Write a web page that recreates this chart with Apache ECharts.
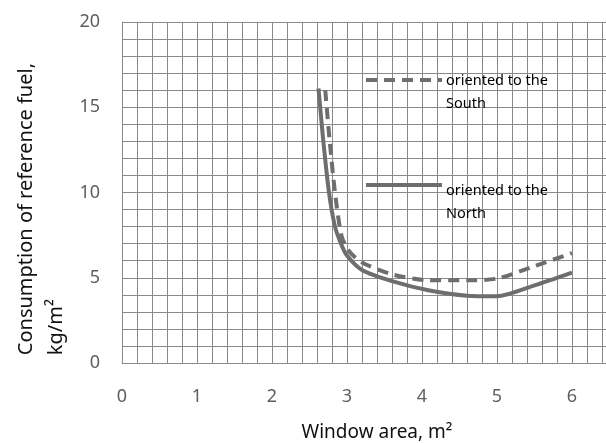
<!DOCTYPE html>
<html>
<head>
<meta charset="utf-8">
<script src="https://cdn.jsdelivr.net/npm/echarts@6.0.0/dist/echarts.min.js"></script>
<style>
  html, body { margin: 0; padding: 0; background: #fff; }
  #chart { width: 606px; height: 443px; }
</style>
</head>
<body>
<div id="chart"></div>
<script>
// window area (m2) vs fuel consumption (kg/m2)
const northX = [2.62, 2.68, 2.76, 2.84, 2.92, 3.0, 3.2, 3.6, 4.1, 4.6, 5.0, 5.5, 6.0];
const northY = [16.1, 13.2, 10.0, 8.0, 7.0, 6.3, 5.45, 4.8, 4.25, 3.95, 3.92, 4.55, 5.3];
const southX = [2.71, 2.77, 2.84, 2.93, 3.04, 3.2, 3.6, 4.1, 4.6, 5.0, 5.45, 6.0];
const southY = [16.0, 13.0, 10.0, 7.4, 6.5, 5.9, 5.2, 4.85, 4.85, 4.95, 5.6, 6.45];
const xTickLabels = [0, 1, 2, 3, 4, 5, 6];
const yTickLabels = [0, 5, 10, 15, 20];
const legendText = ["oriented to the\nSouth", "oriented to the\nNorth"];

const lineColor = "#6e6e6e";
const gridColor = "#8a8a8a";
const font = "'Noto Sans', 'Open Sans', sans-serif";

const pairs = (xs, ys) => xs.map((x, i) => [x, ys[i]]);
const nearInt = (v, list) => {
    const r = Math.round(v);
    return Math.abs(v - r) < 1e-6 && list.includes(r) ? String(r) : "";
};

const chart = echarts.init(document.getElementById("chart"), null, { renderer: "canvas" });

chart.setOption({
    animation: false,
    backgroundColor: "#fff",
    grid: { left: 122, top: 22, width: 510, height: 341, outerBoundsMode: "none", containLabel: false },
    xAxis: {
        type: "value",
        min: 0,
        max: 6.8,
        interval: 0.2,
        axisLine: { lineStyle: { color: gridColor, width: 1 } },
        axisTick: { show: false },
        splitLine: { show: true, lineStyle: { color: gridColor, width: 1 } },
        axisLabel: {
            color: "#5e5e5e",
            fontSize: 18,
            fontFamily: font,
            margin: 25,
            formatter: (v) => nearInt(v, xTickLabels)
        },
        name: "Window area, m\u00b2",
        nameLocation: "middle",
        nameGap: 60,
        nameTextStyle: { color: "#111", fontSize: 19, fontFamily: font }
    },
    yAxis: {
        type: "value",
        min: 0,
        max: 20,
        interval: 1,
        axisLine: { show: true, lineStyle: { color: gridColor, width: 1 } },
        axisTick: { show: false },
        splitLine: { show: true, lineStyle: { color: gridColor, width: 1 } },
        axisLabel: {
            color: "#5e5e5e",
            fontSize: 18,
            fontFamily: font,
            margin: 22,
            formatter: (v) => nearInt(v, yTickLabels)
        }
    },
    graphic: [
        {
            type: "text",
            left: 11,
            top: 63,
            rotation: Math.PI / 2,
            z: 100,
            style: {
                text: "Consumption of reference fuel,\nkg/m\u00b2",
                fill: "#111",
                font: "20px " + font,
                align: "center",
                lineHeight: 30
            }
        },
        {
            type: "line",
            z: 100,
            shape: { x1: 366, y1: 80, x2: 442, y2: 80 },
            style: { stroke: lineColor, lineWidth: 4, lineDash: [11, 7] }
        },
        {
            type: "text",
            left: 446,
            top: 69,
            z: 100,
            style: { text: legendText[0], fill: "#000", font: "14.5px " + font, lineHeight: 23 }
        },
        {
            type: "line",
            z: 100,
            shape: { x1: 366, y1: 185, x2: 442, y2: 185 },
            style: { stroke: lineColor, lineWidth: 4 }
        },
        {
            type: "text",
            left: 446,
            top: 179,
            z: 100,
            style: { text: legendText[1], fill: "#000", font: "14.5px " + font, lineHeight: 23 }
        }
    ],
    series: [
        {
            name: "oriented to the South",
            type: "line",
            data: pairs(southX, southY),
            smooth: 0.25,
            symbol: "none",
            lineStyle: { color: lineColor, width: 4, type: [11, 7] }
        },
        {
            name: "oriented to the North",
            type: "line",
            data: pairs(northX, northY),
            smooth: 0.25,
            symbol: "none",
            lineStyle: { color: lineColor, width: 4 }
        }
    ]
});
</script>
</body>
</html>
